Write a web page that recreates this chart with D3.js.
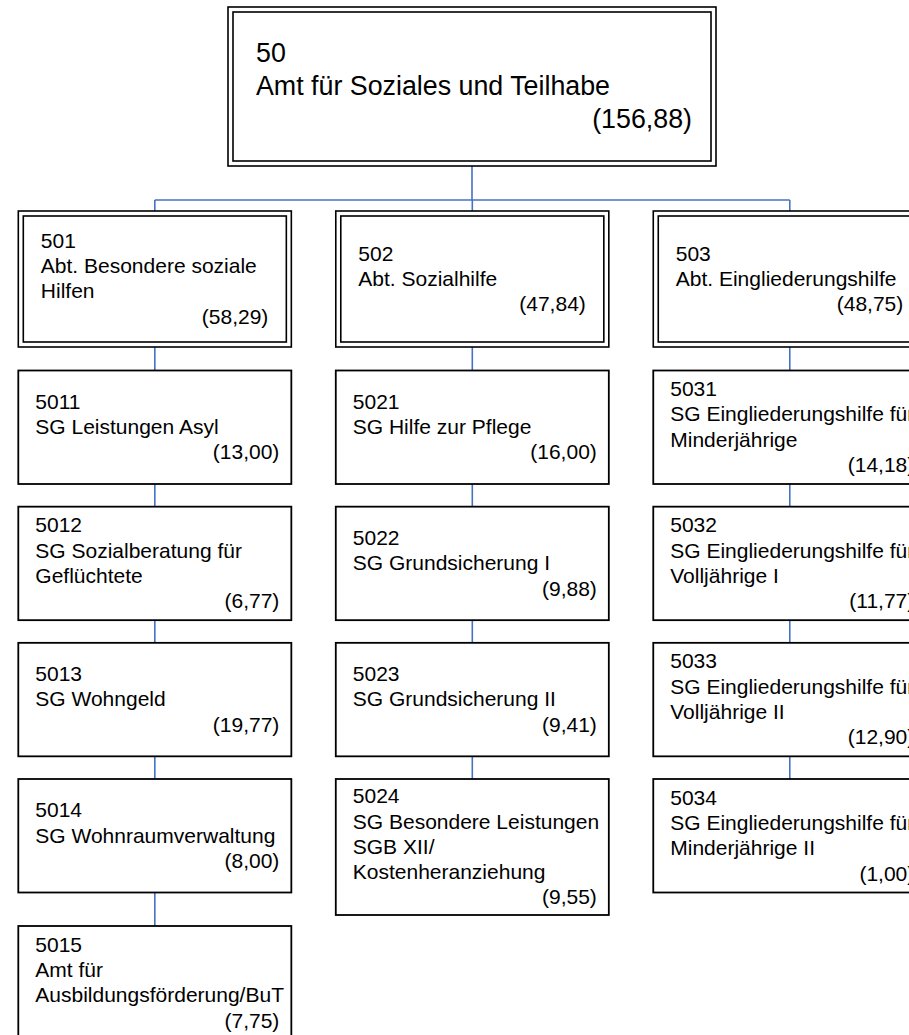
<!DOCTYPE html>
<html>
<head>
<meta charset="utf-8">
<script src="https://cdn.jsdelivr.net/npm/d3@7"></script>
<style>
  body { margin: 0; background: #fff; }
  svg { display: block; }
  text { font-family: "Liberation Sans", Arial, sans-serif; fill: #000; }
</style>
</head>
<body>
<div id="chart"></div>
<script>
// org units, parent unit, name (| = line break), staff (VZÄ)
const unitIds = ["50", "501", "502", "503",
  "5011", "5012", "5013", "5014", "5015",
  "5021", "5022", "5023", "5024",
  "5031", "5032", "5033", "5034"];
const parentIds = ["", "50", "50", "50",
  "501", "501", "501", "501", "501",
  "502", "502", "502", "502",
  "503", "503", "503", "503"];
const unitNames = [
  "Amt für Soziales und Teilhabe",
  "Abt. Besondere soziale|Hilfen",
  "Abt. Sozialhilfe",
  "Abt. Eingliederungshilfe",
  "SG Leistungen Asyl",
  "SG Sozialberatung für|Geflüchtete",
  "SG Wohngeld",
  "SG Wohnraumverwaltung",
  "Amt für|Ausbildungsförderung/BuT",
  "SG Hilfe zur Pflege",
  "SG Grundsicherung I",
  "SG Grundsicherung II",
  "SG Besondere Leistungen|SGB XII/|Kostenheranziehung",
  "SG Eingliederungshilfe für|Minderjährige",
  "SG Eingliederungshilfe für|Volljährige I",
  "SG Eingliederungshilfe für|Volljährige II",
  "SG Eingliederungshilfe für|Minderjährige II"
];
const staff = [156.88, 58.29, 47.84, 48.75,
  13.00, 6.77, 19.77, 8.00, 7.75,
  16.00, 9.88, 9.41, 9.55,
  14.18, 11.77, 12.90, 1.00];

const width = 909;
const height = 1035;

const de = d3.formatLocale({ decimal: ",", thousands: ".", grouping: [3], currency: ["", " €"] });
const fmt = de.format(".2f");

const table = unitIds.map((id, i) => ({
  id, parent: parentIds[i] || null, name: unitNames[i], value: staff[i]
}));
const root = d3.stratify().id(d => d.id).parentId(d => d.parent)(table);

const svg = d3.select("#chart").append("svg")
  .attr("width", width)
  .attr("height", height);

// columns = departments
const x = d3.scaleBand()
  .domain(root.children.map(d => d.id))
  .range([18.3, 926.3])
  .paddingInner(0.14);

// rows of the sections below each department (last row sits a bit lower)
const yRow = d3.scaleLinear().domain([0, 3, 4]).range([370.5, 779, 926]);

const busY = 200;
const lvl1Top = 211, lvl1H = 136;
const topBox = { x: 228, y: 7, w: 488, h: 159 };

const styles = {
  0: { size: 26.8, lh: 33, padL: 28, padR: 24 },
  1: { size: 21, lh: 25.3, padL: 22.5, padR: 23 },
  2: { size: 21, lh: 25.3, padL: 17, padR: 12 }
};

// box geometry
root.each(d => {
  if (d.depth === 0) {
    Object.assign(d, topBox);
  } else if (d.depth === 1) {
    d.x = x(d.id); d.w = x.bandwidth(); d.y = lvl1Top; d.h = lvl1H;
  } else {
    const i = d.parent.children.indexOf(d);
    const lines = d.data.name.split("|").length + 2;
    d.x = x(d.parent.id); d.w = x.bandwidth();
    d.y = yRow(i); d.h = Math.max(113.5, lines * 25.3 + 9.5);
  }
});

const blue = "#4472c4";
const links = svg.append("g")
  .attr("stroke", blue)
  .attr("stroke-width", 1.6)
  .attr("fill", "none");

const cx = d => d.x + d.w / 2;
const depts = root.children;

links.append("line")
  .attr("x1", cx(root)).attr("x2", cx(root))
  .attr("y1", root.y + root.h).attr("y2", busY);
links.append("line")
  .attr("x1", cx(depts[0])).attr("x2", cx(depts[depts.length - 1]))
  .attr("y1", busY).attr("y2", busY);
links.selectAll(".drop").data(depts).join("line")
  .attr("x1", cx).attr("x2", cx)
  .attr("y1", busY).attr("y2", d => d.y);

// chain within each column
depts.forEach(dep => {
  const chain = [dep].concat(dep.children);
  links.selectAll(null).data(d3.pairs(chain)).join("line")
    .attr("x1", p => cx(p[0])).attr("x2", p => cx(p[0]))
    .attr("y1", p => p[0].y + p[0].h).attr("y2", p => p[1].y);
});

const nodes = svg.append("g").selectAll("g")
  .data(root.descendants())
  .join("g");

nodes.append("rect")
  .attr("x", d => d.x).attr("y", d => d.y)
  .attr("width", d => d.w).attr("height", d => d.h)
  .attr("fill", "#fff")
  .attr("stroke", "#000")
  .attr("stroke-width", d => d.depth < 2 ? 1.6 : 1.8);

nodes.filter(d => d.depth < 2).append("rect")
  .attr("x", d => d.x + 5).attr("y", d => d.y + 5)
  .attr("width", d => d.w - 10).attr("height", d => d.h - 10)
  .attr("fill", "none")
  .attr("stroke", "#000")
  .attr("stroke-width", 1.6);

nodes.each(function (d) {
  const s = styles[d.depth];
  const lines = [d.id].concat(d.data.name.split("|"));
  const n = lines.length + 1;
  const start = d.y + d.h / 2 - n * s.lh / 2;
  const g = d3.select(this);
  g.selectAll("text.l").data(lines).join("text")
    .attr("class", "l")
    .attr("x", d.x + s.padL)
    .attr("y", (t, i) => start + i * s.lh + s.lh * 0.77)
    .style("font-size", s.size + "px")
    .text(t => t);
  g.append("text")
    .attr("x", d.x + d.w - s.padR)
    .attr("y", start + lines.length * s.lh + s.lh * 0.77)
    .attr("text-anchor", "end")
    .style("font-size", s.size + "px")
    .text(`(${fmt(d.data.value)})`);
});
</script>
</body>
</html>
